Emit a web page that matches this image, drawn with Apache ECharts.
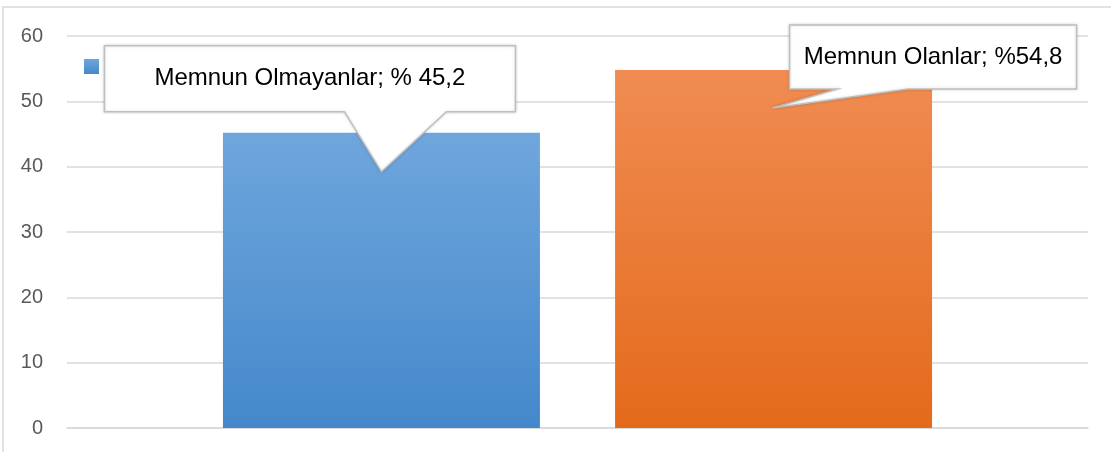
<!DOCTYPE html>
<html>
<head>
<meta charset="utf-8">
<script src="https://cdn.jsdelivr.net/npm/echarts@6/dist/echarts.min.js"></script>
<style>html,body{margin:0;padding:0;background:#fff;}#c{width:1111px;height:452px;}</style>
</head>
<body>
<div id="c"></div>
<script>
const categories = [''];
const seriesNames = ['Memnun Olmayanlar', 'Memnun Olanlar'];
const values = [45.2, 54.8];
const calloutTexts = ['Memnun Olmayanlar; % 45,2', 'Memnun Olanlar; %54,8'];
const yMin = 0, yMax = 60, yInterval = 10;

const gradients = [
  ['#6fa6dc', '#4488cb'],
  ['#f08c52', '#e46a1b']
];

const chart = echarts.init(document.getElementById('c'), null, {renderer: 'canvas'});
const FONT = '"Liberation Sans", Arial, sans-serif';

chart.setOption({
  animation: false,
  backgroundColor: '#fff',
  grid: {left: 67, right: 23, top: 36, bottom: 24, containLabel: false},
  legend: {
    left: 84, top: 59, padding: 0, itemWidth: 15, itemHeight: 15, itemGap: 10, icon: 'rect',
    data: seriesNames, z: 1,
    textStyle: {fontFamily: FONT, fontSize: 15, color: '#595959', lineHeight: 15}
  },
  xAxis: {
    type: 'category', data: categories,
    axisLine: {show: true, lineStyle: {color: '#d9d9d9', width: 1.5}},
    axisTick: {show: false}, axisLabel: {show: false}
  },
  yAxis: {
    type: 'value', min: yMin, max: yMax, interval: yInterval,
    axisLine: {show: false}, axisTick: {show: false},
    axisLabel: {margin: 24, fontFamily: FONT, fontSize: 20, color: '#595959'},
    splitLine: {lineStyle: {color: '#d9d9d9', width: 1.5}}
  },
  series: seriesNames.map((name, i) => ({
    name: name,
    type: 'bar',
    data: [values[i]],
    barWidth: 317,
    barGap: '23.7%',
    itemStyle: {
      color: new echarts.graphic.LinearGradient(0, 0, 0, 1, [
        {offset: 0, color: gradients[i][0]},
        {offset: 1, color: gradients[i][1]}
      ]),
      shadowBlur: 8, shadowColor: 'rgba(0,0,0,0.35)', shadowOffsetX: 1, shadowOffsetY: 1
    }
  }))
});

function barGeom(i) {
  const l = chart.getModel().getSeriesByIndex(i).getData().getItemLayout(0);
  return {cx: l.x + l.width / 2, top: Math.min(l.y, l.y + l.height)};
}

// callout shapes relative to the bar they point at
const shapes = [
  {l: -277, r: 134, t: -87, b: -21, b1: -37, b2: 65, tx: 0, ty: 39},
  {l: 16, r: 303, t: -45, b: 19, b1: 64, b2: 134, tx: -1, ty: 38}
];

const elements = [{
  type: 'rect', z: 100, silent: true,
  shape: {x: 3, y: 7, width: 1200, height: 600},
  style: {fill: 'none', stroke: '#d9d9d9', lineWidth: 1.5}
}];
shapes.forEach((s, i) => {
  const g = barGeom(i);
  const L = g.cx + s.l, R = g.cx + s.r, T = g.top + s.t, B = g.top + s.b;
  const pts = [[L, T], [R, T], [R, B], [g.cx + s.b2, B], [g.cx + s.tx, g.top + s.ty], [g.cx + s.b1, B], [L, B]];
  elements.push({
    type: 'polygon', z: 200, silent: true,
    shape: {points: pts},
    style: {fill: '#fff', stroke: '#bfbfbf', lineWidth: 1.5, shadowBlur: 3, shadowColor: 'rgba(0,0,0,0.15)'}
  });
  elements.push({
    type: 'text', z: 201, silent: true,
    x: (L + R) / 2, y: (T + B) / 2,
    style: {text: calloutTexts[i], fill: '#000', fontFamily: FONT, fontSize: 24, align: 'center', verticalAlign: 'middle'}
  });
});
chart.setOption({graphic: elements});
</script>
</body>
</html>
